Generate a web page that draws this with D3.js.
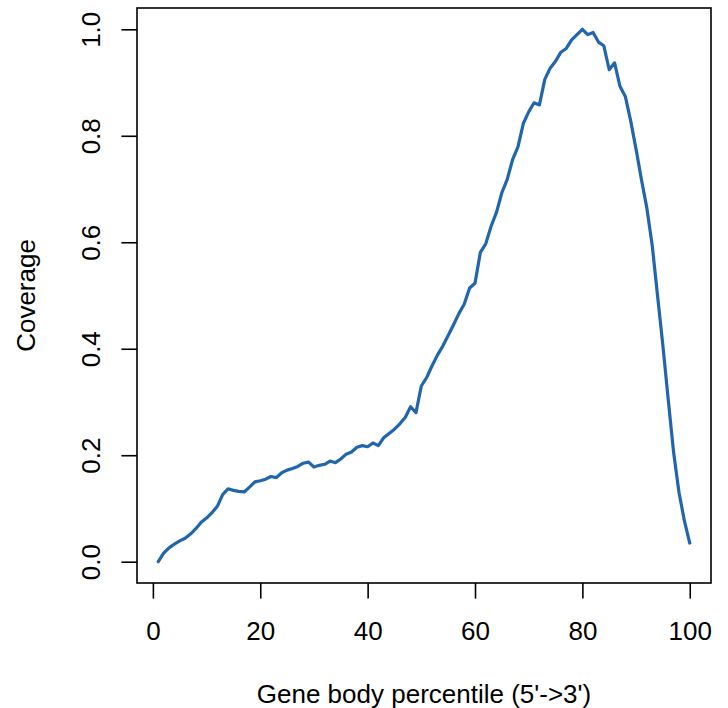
<!DOCTYPE html>
<html>
<head>
<meta charset="utf-8">
<script src="https://cdn.jsdelivr.net/npm/d3@7"></script>
<style>
  html, body { margin: 0; padding: 0; background: #fff; }
  svg { display: block; font-family: "Liberation Sans", Arial, sans-serif; }
</style>
</head>
<body>
<svg id="chart" width="728" height="708"></svg>
<script>
// gene body percentiles 1..100
const percentile = d3.range(1, 101);

// normalised coverage
const coverage = [
  0.000, 0.016, 0.026, 0.033, 0.039, 0.044, 0.052, 0.062, 0.074, 0.082,
  0.092, 0.104, 0.126, 0.137, 0.134, 0.132, 0.131, 0.140, 0.150, 0.152,
  0.155, 0.160, 0.158, 0.167, 0.172, 0.175, 0.179, 0.185, 0.187, 0.178,
  0.181, 0.183, 0.189, 0.186, 0.193, 0.202, 0.206, 0.215, 0.218, 0.216,
  0.223, 0.218, 0.233, 0.241, 0.249, 0.259, 0.271, 0.291, 0.280, 0.330,
  0.346, 0.368, 0.388, 0.405, 0.425, 0.445, 0.466, 0.484, 0.514, 0.523,
  0.581, 0.597, 0.630, 0.656, 0.693, 0.718, 0.755, 0.779, 0.823, 0.845,
  0.862, 0.858, 0.906, 0.927, 0.940, 0.957, 0.964, 0.980, 0.990, 1.000,
  0.990, 0.994, 0.976, 0.969, 0.924, 0.937, 0.893, 0.874, 0.828, 0.775,
  0.718, 0.665, 0.595, 0.500, 0.406, 0.304, 0.205, 0.130, 0.077, 0.035
];

const xTicks = [0, 20, 40, 60, 80, 100];
const yTicks = [0, 0.2, 0.4, 0.6, 0.8, 1.0];

const data = percentile.map((p, i) => ({ p, v: coverage[i] }));

const svg = d3.select("#chart");
const width = +svg.attr("width");
const height = +svg.attr("height");
const margin = { top: 8, right: 17, bottom: 125, left: 137 };

const plotWidth = width - margin.left - margin.right;
const plotHeight = height - margin.top - margin.bottom;

const g = svg.append("g")
  .attr("transform", `translate(${margin.left},${margin.top})`);

// R style 4% padding around the data range
const xPad = (d3.max(percentile) - d3.min(percentile)) * 0.04;
const x = d3.scaleLinear()
  .domain([d3.min(percentile) - xPad, d3.max(percentile) + xPad])
  .range([0, plotWidth]);
const y = d3.scaleLinear()
  .domain([-0.04, 1.04])
  .range([plotHeight, 0]);

const fontSize = 26;
const tickLen = 15.6;
const lw = 1.6;

// x axis
const xAxis = g.append("g")
  .attr("transform", `translate(0,${plotHeight})`)
  .call(d3.axisBottom(x).tickValues(xTicks).tickSize(tickLen).tickSizeOuter(0)
    .tickFormat(d3.format("d")));
xAxis.select(".domain").remove();
xAxis.selectAll("line").attr("stroke", "#000").attr("stroke-width", lw);
xAxis.selectAll("text")
  .attr("y", 57)
  .attr("dy", 0)
  .attr("fill", "#000")
  .attr("font-size", fontSize)
  .attr("font-family", "Liberation Sans, Arial, sans-serif");

// y axis, labels rotated like R's default las = 0
const yAxis = g.append("g")
  .call(d3.axisLeft(y).tickValues(yTicks).tickSize(tickLen).tickSizeOuter(0)
    .tickFormat(d3.format(".1f")));
yAxis.select(".domain").remove();
yAxis.selectAll("line").attr("stroke", "#000").attr("stroke-width", lw);
yAxis.selectAll("text")
  .attr("transform", "rotate(-90)")
  .attr("x", 0)
  .attr("y", -37.5)
  .attr("dy", 0)
  .attr("text-anchor", "middle")
  .attr("fill", "#000")
  .attr("font-size", fontSize)
  .attr("font-family", "Liberation Sans, Arial, sans-serif");

// coverage curve
const line = d3.line()
  .x(d => x(d.p))
  .y(d => y(d.v));

g.append("path")
  .datum(data)
  .attr("d", line)
  .attr("fill", "none")
  .attr("stroke", "#2166ac")
  .attr("stroke-width", 3.2)
  .attr("stroke-linejoin", "round")
  .attr("stroke-linecap", "round");

// plot box
g.append("rect")
  .attr("x", 0)
  .attr("y", 0)
  .attr("width", plotWidth)
  .attr("height", plotHeight)
  .attr("fill", "none")
  .attr("stroke", "#000")
  .attr("stroke-width", lw);

// axis titles
g.append("text")
  .attr("x", plotWidth / 2)
  .attr("y", plotHeight + 120)
  .attr("text-anchor", "middle")
  .attr("font-size", fontSize)
  .text("Gene body percentile (5'->3')");

g.append("text")
  .attr("transform", `translate(${-102},${plotHeight / 2}) rotate(-90)`)
  .attr("text-anchor", "middle")
  .attr("font-size", fontSize)
  .text("Coverage");
</script>
</body>
</html>
